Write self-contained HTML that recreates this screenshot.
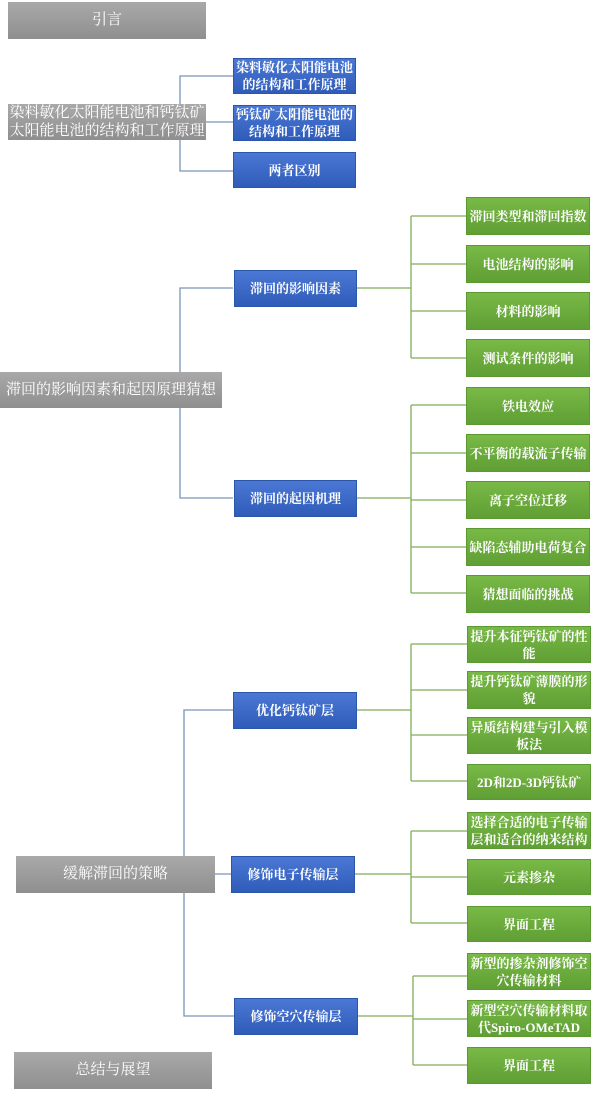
<!DOCTYPE html>
<html><head><meta charset="utf-8"><style>
body{margin:0;width:600px;height:1104px;background:#fff;position:relative;overflow:hidden;font-family:"Liberation Serif","Noto Serif CJK SC",serif;}
.b{position:absolute;display:flex;align-items:center;justify-content:center;text-align:center;color:#fff;font-weight:bold;font-size:13px;line-height:17px;box-sizing:border-box;padding:0 2px;}
.g{background:linear-gradient(#a9a9a9,#8f8f8f);font-weight:normal;font-size:15px;}
.u{background:linear-gradient(#4a78d4,#2f5cb8);border:1px solid #2c56a8;}
.n{background:linear-gradient(#79b947,#5f9f34);border:1px solid #5b9a31;}
svg{position:absolute;left:0;top:0}
</style></head><body>
<svg width="600" height="1104">
<g fill="none" stroke-width="1.3">
<path d="M206 122H180V76H233M180 122V171H233M206 122H233" stroke="#7a94b8"/>
<path d="M180 389V288H233M180 389V498H233" stroke="#7a94b8"/>
<path d="M356 288H411M411 216V358M411 216H466M411 264H466M411 311H466M411 358H466" stroke="#7fae5a"/>
<path d="M356 498H411M411 405V593M411 405H466M411 453H466M411 500H466M411 547H466M411 593H466" stroke="#7fae5a"/>
<path d="M184 874V710H233M184 874V1016H234M215 874H231" stroke="#7a94b8"/>
<path d="M357 710H411M411 644V781M411 644H467M411 690H467M411 735H467M411 781H467" stroke="#7fae5a"/>
<path d="M355 874H411M411 831V923M411 831H467M411 877H467M411 923H467" stroke="#7fae5a"/>
<path d="M358 1016H413M413 976V1065M413 976H467M413 1019H467M413 1065H467" stroke="#7fae5a"/>
</g></svg>
<div class="b g" style="left:8px;top:2px;width:198px;height:37px">引言</div>
<div class="b g" style="left:8px;top:104px;width:198px;height:36px;line-height:18px;padding:0">染料敏化太阳能电池和钙钛矿太阳能电池的结构和工作原理</div>
<div class="b u" style="left:233px;top:58px;width:123px;height:36px">染料敏化太阳能电池的结构和工作原理</div>
<div class="b u" style="left:233px;top:105px;width:123px;height:36px">钙钛矿太阳能电池的结构和工作原理</div>
<div class="b u" style="left:233px;top:152px;width:123px;height:36px">两者区别</div>

<div class="b g" style="left:0;top:372px;width:222px;height:36px">滞回的影响因素和起因原理猜想</div>
<div class="b u" style="left:234px;top:270px;width:123px;height:37px">滞回的影响因素</div>
<div class="b u" style="left:234px;top:480px;width:123px;height:37px">滞回的起因机理</div>
<div class="b n" style="left:466px;top:197px;width:124px;height:38px">滞回类型和滞回指数</div>
<div class="b n" style="left:466px;top:245px;width:124px;height:38px">电池结构的影响</div>
<div class="b n" style="left:466px;top:292px;width:124px;height:38px">材料的影响</div>
<div class="b n" style="left:466px;top:339px;width:124px;height:38px">测试条件的影响</div>
<div class="b n" style="left:466px;top:387px;width:124px;height:38px">铁电效应</div>
<div class="b n" style="left:466px;top:434px;width:124px;height:38px">不平衡的载流子传输</div>
<div class="b n" style="left:466px;top:481px;width:124px;height:38px">离子空位迁移</div>
<div class="b n" style="left:466px;top:528px;width:124px;height:38px">缺陷态辅助电荷复合</div>
<div class="b n" style="left:466px;top:575px;width:124px;height:38px">猜想面临的挑战</div>

<div class="b g" style="left:16px;top:856px;width:199px;height:37px">缓解滞回的策略</div>
<div class="b u" style="left:233px;top:692px;width:124px;height:37px">优化钙钛矿层</div>
<div class="b u" style="left:231px;top:856px;width:124px;height:37px">修饰电子传输层</div>
<div class="b u" style="left:234px;top:998px;width:124px;height:37px">修饰空穴传输层</div>
<div class="b n" style="left:467px;top:626px;width:124px;height:37px">提升本征钙钛矿的性能</div>
<div class="b n" style="left:467px;top:671px;width:124px;height:38px">提升钙钛矿薄膜的形貌</div>
<div class="b n" style="left:467px;top:717px;width:124px;height:37px">异质结构建与引入模板法</div>
<div class="b n" style="left:467px;top:764px;width:124px;height:36px">2D和2D-3D钙钛矿</div>
<div class="b n" style="left:467px;top:812px;width:124px;height:37px">选择合适的电子传输层和适合的纳米结构</div>
<div class="b n" style="left:467px;top:859px;width:124px;height:36px">元素掺杂</div>
<div class="b n" style="left:467px;top:906px;width:124px;height:36px">界面工程</div>
<div class="b n" style="left:467px;top:953px;width:124px;height:37px">新型的掺杂剂修饰空穴传输材料</div>
<div class="b n" style="left:467px;top:1000px;width:124px;height:37px">新型空穴传输材料取代Spiro-OMeTAD</div>
<div class="b n" style="left:467px;top:1047px;width:124px;height:37px">界面工程</div>
<div class="b g" style="left:14px;top:1052px;width:198px;height:37px">总结与展望</div>
</body></html>
